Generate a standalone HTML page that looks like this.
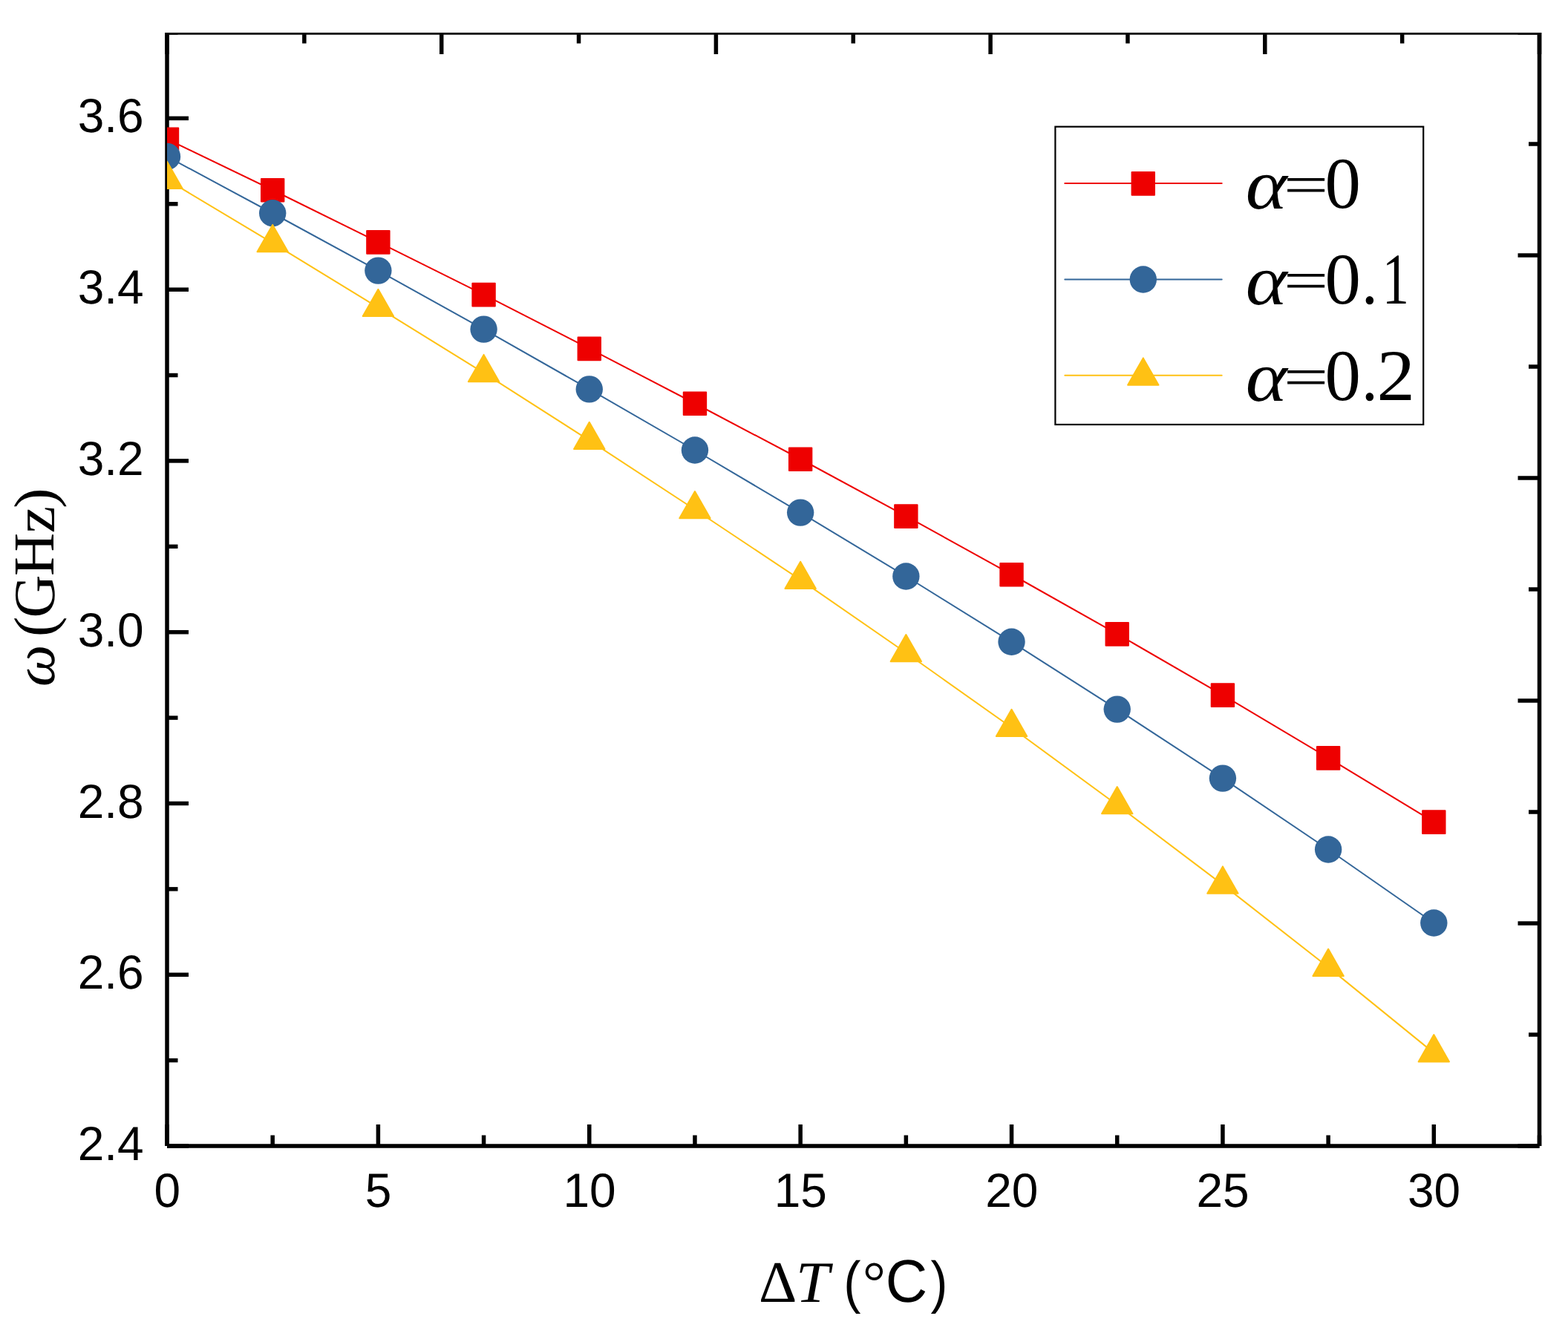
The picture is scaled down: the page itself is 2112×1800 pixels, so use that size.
<!DOCTYPE html>
<html lang="en"><head><meta charset="utf-8"><title>Frequency versus temperature difference</title>
<style>
html,body{margin:0;padding:0;background:#fff;}
body{width:2112px;height:1800px;}
svg{display:block;text-rendering:geometricPrecision;}
.tk{font-family:"Liberation Sans",sans-serif;font-size:64.6px;fill:#000;}
.g-se{font-family:"Liberation Serif",serif;}
.g-si{font-family:"Liberation Serif",serif;font-style:italic;}
.g-sa{font-family:"Liberation Sans",sans-serif;}
</style></head><body>
<svg width="2112" height="1800" viewBox="0 0 2112 1800">
<defs><clipPath id="plot"><rect x="225" y="44" width="1851.5" height="1503"/></clipPath><clipPath id="frame"><rect x="0" y="44" width="2112" height="1756"/></clipPath></defs>
<rect x="0" y="0" width="2112" height="1800" fill="#fff"/>
<g clip-path="url(#frame)" stroke="#000" stroke-width="5.5" fill="none" stroke-linecap="butt">
<line x1="225.0" y1="44.0" x2="225.0" y2="1544.0"/>
<line x1="2073.5" y1="44.0" x2="2073.5" y2="1544.0"/>
<line x1="225.0" y1="1544.0" x2="2073.5" y2="1544.0"/>
<line x1="225.0" y1="44.0" x2="2073.5" y2="44.0"/>
<line x1="225" y1="1544.0" x2="225" y2="1515"/>
<line x1="367.19" y1="1544.0" x2="367.19" y2="1529.5"/>
<line x1="509.38" y1="1544.0" x2="509.38" y2="1515"/>
<line x1="651.58" y1="1544.0" x2="651.58" y2="1529.5"/>
<line x1="793.77" y1="1544.0" x2="793.77" y2="1515"/>
<line x1="935.96" y1="1544.0" x2="935.96" y2="1529.5"/>
<line x1="1078.15" y1="1544.0" x2="1078.15" y2="1515"/>
<line x1="1220.35" y1="1544.0" x2="1220.35" y2="1529.5"/>
<line x1="1362.54" y1="1544.0" x2="1362.54" y2="1515"/>
<line x1="1504.73" y1="1544.0" x2="1504.73" y2="1529.5"/>
<line x1="1646.92" y1="1544.0" x2="1646.92" y2="1515"/>
<line x1="1789.12" y1="1544.0" x2="1789.12" y2="1529.5"/>
<line x1="1931.31" y1="1544.0" x2="1931.31" y2="1515"/>
<line x1="2073.5" y1="1544.0" x2="2073.5" y2="1529.5"/>
<line x1="225.0" y1="1544" x2="254" y2="1544"/>
<line x1="225.0" y1="1428.62" x2="239.5" y2="1428.62"/>
<line x1="225.0" y1="1313.23" x2="254" y2="1313.23"/>
<line x1="225.0" y1="1197.85" x2="239.5" y2="1197.85"/>
<line x1="225.0" y1="1082.46" x2="254" y2="1082.46"/>
<line x1="225.0" y1="967.08" x2="239.5" y2="967.08"/>
<line x1="225.0" y1="851.69" x2="254" y2="851.69"/>
<line x1="225.0" y1="736.31" x2="239.5" y2="736.31"/>
<line x1="225.0" y1="620.92" x2="254" y2="620.92"/>
<line x1="225.0" y1="505.54" x2="239.5" y2="505.54"/>
<line x1="225.0" y1="390.15" x2="254" y2="390.15"/>
<line x1="225.0" y1="274.77" x2="239.5" y2="274.77"/>
<line x1="225.0" y1="159.38" x2="254" y2="159.38"/>
<line x1="225.0" y1="44" x2="239.5" y2="44"/>
<line x1="225" y1="44.0" x2="225" y2="73"/>
<line x1="409.85" y1="44.0" x2="409.85" y2="58.5"/>
<line x1="594.7" y1="44.0" x2="594.7" y2="73"/>
<line x1="779.55" y1="44.0" x2="779.55" y2="58.5"/>
<line x1="964.4" y1="44.0" x2="964.4" y2="73"/>
<line x1="1149.25" y1="44.0" x2="1149.25" y2="58.5"/>
<line x1="1334.1" y1="44.0" x2="1334.1" y2="73"/>
<line x1="1518.95" y1="44.0" x2="1518.95" y2="58.5"/>
<line x1="1703.8" y1="44.0" x2="1703.8" y2="73"/>
<line x1="1888.65" y1="44.0" x2="1888.65" y2="58.5"/>
<line x1="2073.5" y1="44.0" x2="2073.5" y2="73"/>
<line x1="2073.5" y1="1544" x2="2044.5" y2="1544"/>
<line x1="2073.5" y1="1394" x2="2059" y2="1394"/>
<line x1="2073.5" y1="1244" x2="2044.5" y2="1244"/>
<line x1="2073.5" y1="1094" x2="2059" y2="1094"/>
<line x1="2073.5" y1="944" x2="2044.5" y2="944"/>
<line x1="2073.5" y1="794" x2="2059" y2="794"/>
<line x1="2073.5" y1="644" x2="2044.5" y2="644"/>
<line x1="2073.5" y1="494" x2="2059" y2="494"/>
<line x1="2073.5" y1="344" x2="2044.5" y2="344"/>
<line x1="2073.5" y1="194" x2="2059" y2="194"/>
<line x1="2073.5" y1="44" x2="2044.5" y2="44"/>
</g>
<g clip-path="url(#plot)">
<g fill="#ee0000" stroke="#ee0000" stroke-width="2" stroke-linejoin="round" stroke-linecap="round">
<polyline fill="none" points="225,187.5 367.19,256 509.38,326.1 651.58,396.9 793.77,469.6 935.96,543.5 1078.15,618.5 1220.35,695.4 1362.54,774 1504.73,854.1 1646.92,936.4 1789.12,1021.1 1931.31,1107.3"/>
<rect x="209.8" y="172.4" width="30.4" height="30.7"/><rect x="351.99" y="240.9" width="30.4" height="30.7"/><rect x="494.18" y="311" width="30.4" height="30.7"/><rect x="636.38" y="381.8" width="30.4" height="30.7"/><rect x="778.57" y="454.5" width="30.4" height="30.7"/><rect x="920.76" y="528.4" width="30.4" height="30.7"/><rect x="1062.95" y="603.4" width="30.4" height="30.7"/><rect x="1205.15" y="680.3" width="30.4" height="30.7"/><rect x="1347.34" y="758.9" width="30.4" height="30.7"/><rect x="1489.53" y="839" width="30.4" height="30.7"/><rect x="1631.72" y="921.3" width="30.4" height="30.7"/><rect x="1773.92" y="1006" width="30.4" height="30.7"/><rect x="1916.11" y="1092.2" width="30.4" height="30.7"/>
</g>
<g fill="#336699" stroke="#336699" stroke-width="2" stroke-linejoin="round" stroke-linecap="round">
<polyline fill="none" points="225,210.9 367.19,287.25 509.38,364.6 651.58,443.6 793.77,524.4 935.96,606.5 1078.15,690.6 1220.35,776.5 1362.54,864.8 1504.73,955.6 1646.92,1048.6 1789.12,1144.5 1931.31,1243.5"/>
<g stroke="none"><circle cx="225" cy="210.9" r="18.2"/><circle cx="367.19" cy="287.25" r="18.2"/><circle cx="509.38" cy="364.6" r="18.2"/><circle cx="651.58" cy="443.6" r="18.2"/><circle cx="793.77" cy="524.4" r="18.2"/><circle cx="935.96" cy="606.5" r="18.2"/><circle cx="1078.15" cy="690.6" r="18.2"/><circle cx="1220.35" cy="776.5" r="18.2"/><circle cx="1362.54" cy="864.8" r="18.2"/><circle cx="1504.73" cy="955.6" r="18.2"/><circle cx="1646.92" cy="1048.6" r="18.2"/><circle cx="1789.12" cy="1144.5" r="18.2"/><circle cx="1931.31" cy="1243.5" r="18.2"/></g>
</g>
<g fill="#ffc114" stroke="#ffc114" stroke-width="2" stroke-linejoin="round" stroke-linecap="round">
<polyline fill="none" points="225,242.2 367.19,327.4 509.38,414.3 651.58,502.4 793.77,593.3 935.96,686.5 1078.15,781.2 1220.35,879.5 1362.54,980.3 1504.73,1084.5 1646.92,1191.9 1789.12,1303.1 1931.31,1418.6"/>
<polygon points="225,217.7 245.7,254 204.3,254"/><polygon points="367.19,302.9 387.89,339.2 346.49,339.2"/><polygon points="509.38,389.8 530.08,426.1 488.68,426.1"/><polygon points="651.58,477.9 672.28,514.2 630.88,514.2"/><polygon points="793.77,568.8 814.47,605.1 773.07,605.1"/><polygon points="935.96,662 956.66,698.3 915.26,698.3"/><polygon points="1078.15,756.7 1098.85,793 1057.45,793"/><polygon points="1220.35,855 1241.05,891.3 1199.65,891.3"/><polygon points="1362.54,955.8 1383.24,992.1 1341.84,992.1"/><polygon points="1504.73,1060 1525.43,1096.3 1484.03,1096.3"/><polygon points="1646.92,1167.4 1667.62,1203.7 1626.22,1203.7"/><polygon points="1789.12,1278.6 1809.82,1314.9 1768.42,1314.9"/><polygon points="1931.31,1394.1 1952.01,1430.4 1910.61,1430.4"/>
</g>
</g>
<rect x="1421.4" y="170.7" width="495.8" height="401.3" fill="#fff" stroke="#000" stroke-width="2.2"/>
<g fill="#ee0000" stroke="#ee0000" stroke-width="2" stroke-linejoin="round" stroke-linecap="round">
<line x1="1434.3" y1="247.0" x2="1645.7" y2="247.0"/>
<rect x="1524.6" y="232" width="30.4" height="30.7"/>
</g>
<g fill="#336699" stroke="#336699" stroke-width="2" stroke-linejoin="round" stroke-linecap="round">
<line x1="1434.3" y1="376.5" x2="1645.7" y2="376.5"/>
<g stroke="none"><circle cx="1539.8" cy="376.5" r="18.2"/></g>
</g>
<g fill="#ffc114" stroke="#ffc114" stroke-width="2" stroke-linejoin="round" stroke-linecap="round">
<line x1="1434.3" y1="505.7" x2="1645.7" y2="505.7"/>
<polygon points="1539.8,482.4 1560.5,518.7 1519.1,518.7"/>
</g>
<text fill="#000"><tspan class="g-si" x="1677.72" y="280.6" font-size="96" textLength="56.01" lengthAdjust="spacingAndGlyphs">α</tspan><tspan class="g-se" x="1728.65" y="273.8" font-size="74.6" textLength="60.6" lengthAdjust="spacingAndGlyphs">=</tspan><tspan class="g-se" x="1784.42" y="280.2" font-size="98" textLength="48.37" lengthAdjust="spacingAndGlyphs">0</tspan></text>
<text fill="#000"><tspan class="g-si" x="1677.72" y="409.7" font-size="96" textLength="56.01" lengthAdjust="spacingAndGlyphs">α</tspan><tspan class="g-se" x="1728.65" y="402.9" font-size="74.6" textLength="60.6" lengthAdjust="spacingAndGlyphs">=</tspan><tspan class="g-se" x="1784.42" y="409.3" font-size="98" textLength="48.37" lengthAdjust="spacingAndGlyphs">0</tspan><tspan class="g-se" x="1833.64" y="409.3" font-size="96" textLength="22.21" lengthAdjust="spacingAndGlyphs">.</tspan><tspan class="g-se" x="1861.63" y="409.3" font-size="98" textLength="36.22" lengthAdjust="spacingAndGlyphs">1</tspan></text>
<text fill="#000"><tspan class="g-si" x="1677.72" y="539.8" font-size="96" textLength="56.01" lengthAdjust="spacingAndGlyphs">α</tspan><tspan class="g-se" x="1728.65" y="533" font-size="74.6" textLength="60.6" lengthAdjust="spacingAndGlyphs">=</tspan><tspan class="g-se" x="1784.42" y="539.4" font-size="98" textLength="48.37" lengthAdjust="spacingAndGlyphs">0</tspan><tspan class="g-se" x="1833.64" y="539.4" font-size="96" textLength="22.21" lengthAdjust="spacingAndGlyphs">.</tspan><tspan class="g-se" x="1854.48" y="539.4" font-size="98" textLength="51.39" lengthAdjust="spacingAndGlyphs">2</tspan></text>
<text class="tk" text-anchor="end" x="193.6" y="1563.1" textLength="88.97" lengthAdjust="spacingAndGlyphs">2.4</text>
<text class="tk" text-anchor="end" x="193.6" y="1332.33" textLength="88.97" lengthAdjust="spacingAndGlyphs">2.6</text>
<text class="tk" text-anchor="end" x="193.6" y="1101.56" textLength="88.97" lengthAdjust="spacingAndGlyphs">2.8</text>
<text class="tk" text-anchor="end" x="193.6" y="870.79" textLength="88.97" lengthAdjust="spacingAndGlyphs">3.0</text>
<text class="tk" text-anchor="end" x="193.6" y="640.02" textLength="88.97" lengthAdjust="spacingAndGlyphs">3.2</text>
<text class="tk" text-anchor="end" x="193.6" y="409.25" textLength="88.97" lengthAdjust="spacingAndGlyphs">3.4</text>
<text class="tk" text-anchor="end" x="193.6" y="178.48" textLength="88.97" lengthAdjust="spacingAndGlyphs">3.6</text>
<text class="tk" text-anchor="middle" x="225.2" y="1626.3" textLength="35.59" lengthAdjust="spacingAndGlyphs">0</text>
<text class="tk" text-anchor="middle" x="509.58" y="1626.3" textLength="35.59" lengthAdjust="spacingAndGlyphs">5</text>
<text class="tk" text-anchor="middle" x="793.97" y="1626.3" textLength="71.19" lengthAdjust="spacingAndGlyphs">10</text>
<text class="tk" text-anchor="middle" x="1078.35" y="1626.3" textLength="71.19" lengthAdjust="spacingAndGlyphs">15</text>
<text class="tk" text-anchor="middle" x="1362.74" y="1626.3" textLength="71.19" lengthAdjust="spacingAndGlyphs">20</text>
<text class="tk" text-anchor="middle" x="1647.12" y="1626.3" textLength="71.19" lengthAdjust="spacingAndGlyphs">25</text>
<text class="tk" text-anchor="middle" x="1931.51" y="1626.3" textLength="71.19" lengthAdjust="spacingAndGlyphs">30</text>
<text fill="#000"><tspan class="g-se" x="1021.96" y="1754" font-size="79" textLength="51.34" lengthAdjust="spacingAndGlyphs">Δ</tspan><tspan class="g-si" x="1072.08" y="1754" font-size="78.5" textLength="45.22" lengthAdjust="spacingAndGlyphs">T</tspan><tspan class="g-sa" x="1124" y="1754.0" font-size="40"> </tspan><tspan class="g-sa" x="1136.17" y="1754" font-size="77.8" textLength="23.24" lengthAdjust="spacingAndGlyphs">(</tspan><tspan class="g-se" x="1162.11" y="1752.7" font-size="77.5" textLength="30.86" lengthAdjust="spacingAndGlyphs">°</tspan><tspan class="g-sa" x="1192.63" y="1754" font-size="81.2" textLength="56.45" lengthAdjust="spacingAndGlyphs">C</tspan><tspan class="g-sa" x="1253.6" y="1754" font-size="77.8" textLength="22.86" lengthAdjust="spacingAndGlyphs">)</tspan></text>
<g transform="translate(73,0) rotate(-90)">
<text fill="#000"><tspan class="g-si" x="-925.26" y="0" font-size="78" textLength="56.47" lengthAdjust="spacingAndGlyphs">ω</tspan><tspan class="g-se" x="-870" y="0" font-size="40"> </tspan><tspan class="g-se" x="-858.34" y="0" font-size="78" textLength="27.62" lengthAdjust="spacingAndGlyphs">(</tspan><tspan class="g-se" x="-832.4" y="-0.3" font-size="78.6" textLength="58.12" lengthAdjust="spacingAndGlyphs">G</tspan><tspan class="g-se" x="-776.02" y="-0.7" font-size="78" textLength="58.18" lengthAdjust="spacingAndGlyphs">H</tspan><tspan class="g-se" x="-718.62" y="0" font-size="78" textLength="36.61" lengthAdjust="spacingAndGlyphs">z</tspan><tspan class="g-se" x="-684.97" y="0" font-size="78" textLength="27.62" lengthAdjust="spacingAndGlyphs">)</tspan></text>
</g>
</svg>
</body></html>
